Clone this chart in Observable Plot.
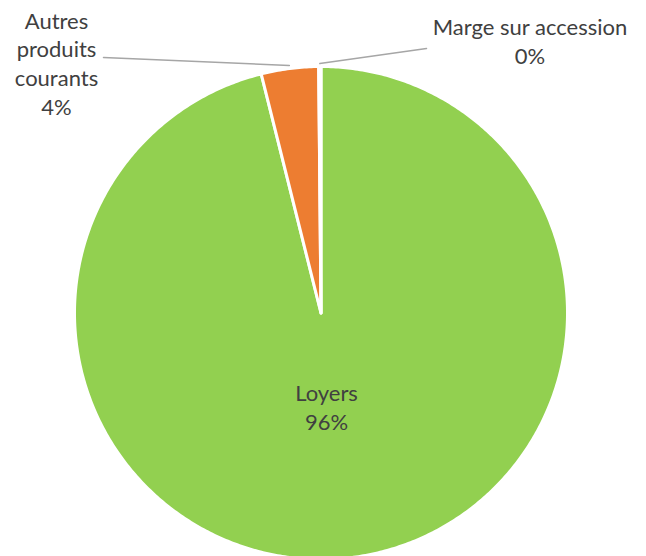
<!DOCTYPE html>
<html>
<head>
<meta charset="utf-8">
<script src="https://cdn.jsdelivr.net/npm/d3@7"></script>
<script src="https://cdn.jsdelivr.net/npm/@observablehq/plot@0.6"></script>
<style>
  html, body { margin: 0; padding: 0; background: #ffffff; }
  #chart { width: 646px; height: 556px; }
</style>
</head>
<body>
<div id="chart"></div>
<script>
// ---- Data ----
const categories = ["Loyers", "Autres produits courants", "Marge sur accession"];
const values = [96.1, 3.75, 0.15];
const colors = ["#92D050", "#ED7D31", "#A5A5A5"];

// ---- Layout (pixels) ----
const W = 646, H = 556;
const CX = 320.5, CY = 312.5, R = 246.5;
// convert pixel coordinates to unit-circle data space
const ux = px => (px - CX) / R;
const uy = py => (CY - py) / R;

const total = d3.sum(values);
// cumulative angles (clockwise from 12 o'clock)
let acc = 0;
const slices = categories.map((name, i) => {
  const a0 = acc / total * 2 * Math.PI;
  acc += values[i];
  const a1 = acc / total * 2 * Math.PI;
  return {name, value: values[i], color: colors[i], a0, a1, mid: (a0 + a1) / 2};
});

// wedge outlines in data space
const wedgePts = [];
for (const s of slices) {
  wedgePts.push({name: s.name, x: 0, y: 0});
  const n = Math.max(2, Math.ceil((s.a1 - s.a0) / 0.01));
  for (let k = 0; k <= n; k++) {
    const a = s.a0 + (s.a1 - s.a0) * k / n;
    wedgePts.push({name: s.name, x: Math.sin(a), y: Math.cos(a)});
  }
  wedgePts.push({name: s.name, x: 0, y: 0});
}

const pct = v => Math.round(v / total * 100) + "%";

// label placement
const labelPos = {
  "Loyers": {x: 326, y: 429, text: "Loyers"},
  "Autres produits courants": {x: 56, y: 114, text: "Autres\nproduits\ncourants", end: [103, 57]},
  "Marge sur accession": {x: 529.5, y: 63, text: "Marge sur accession", end: [426, 48]}
};
const labels = slices.map(s => ({
  x: ux(labelPos[s.name].x),
  y: uy(labelPos[s.name].y),
  text: labelPos[s.name].text + "\n" + pct(s.value)
}));

// leader lines from slice mid-angle to label
const leaders = [];
for (const s of slices) {
  const e = labelPos[s.name].end;
  if (!e) continue;
  leaders.push({name: s.name, x: 1.012 * Math.sin(s.mid), y: 1.012 * Math.cos(s.mid)});
  leaders.push({name: s.name, x: ux(e[0]), y: uy(e[1])});
}

const plot = Plot.plot({
  width: W,
  height: H,
  margin: 0,
  style: {fontFamily: "Lato, 'Open Sans', sans-serif", background: "#ffffff"},
  x: {domain: [ux(0), ux(W)], axis: null},
  y: {domain: [uy(H), uy(0)], axis: null},
  color: {domain: categories, range: colors},
  marks: [
    Plot.line(wedgePts, {
      x: "x", y: "y", z: "name",
      fill: "name",
      stroke: "#ffffff",
      strokeWidth: 3,
      strokeLinejoin: "round",
      curve: "linear"
    }),
    Plot.line(leaders, {
      x: "x", y: "y", z: "name",
      stroke: "#A6A6A6",
      strokeWidth: 1.5
    }),
    Plot.text(labels, {
      x: "x", y: "y", text: "text",
      fontSize: 22,
      fill: "#404040",
      lineAnchor: "bottom",
      lineHeight: 1.3,
      textAnchor: "middle"
    })
  ]
});
document.getElementById("chart").appendChild(plot);
</script>
</body>
</html>
